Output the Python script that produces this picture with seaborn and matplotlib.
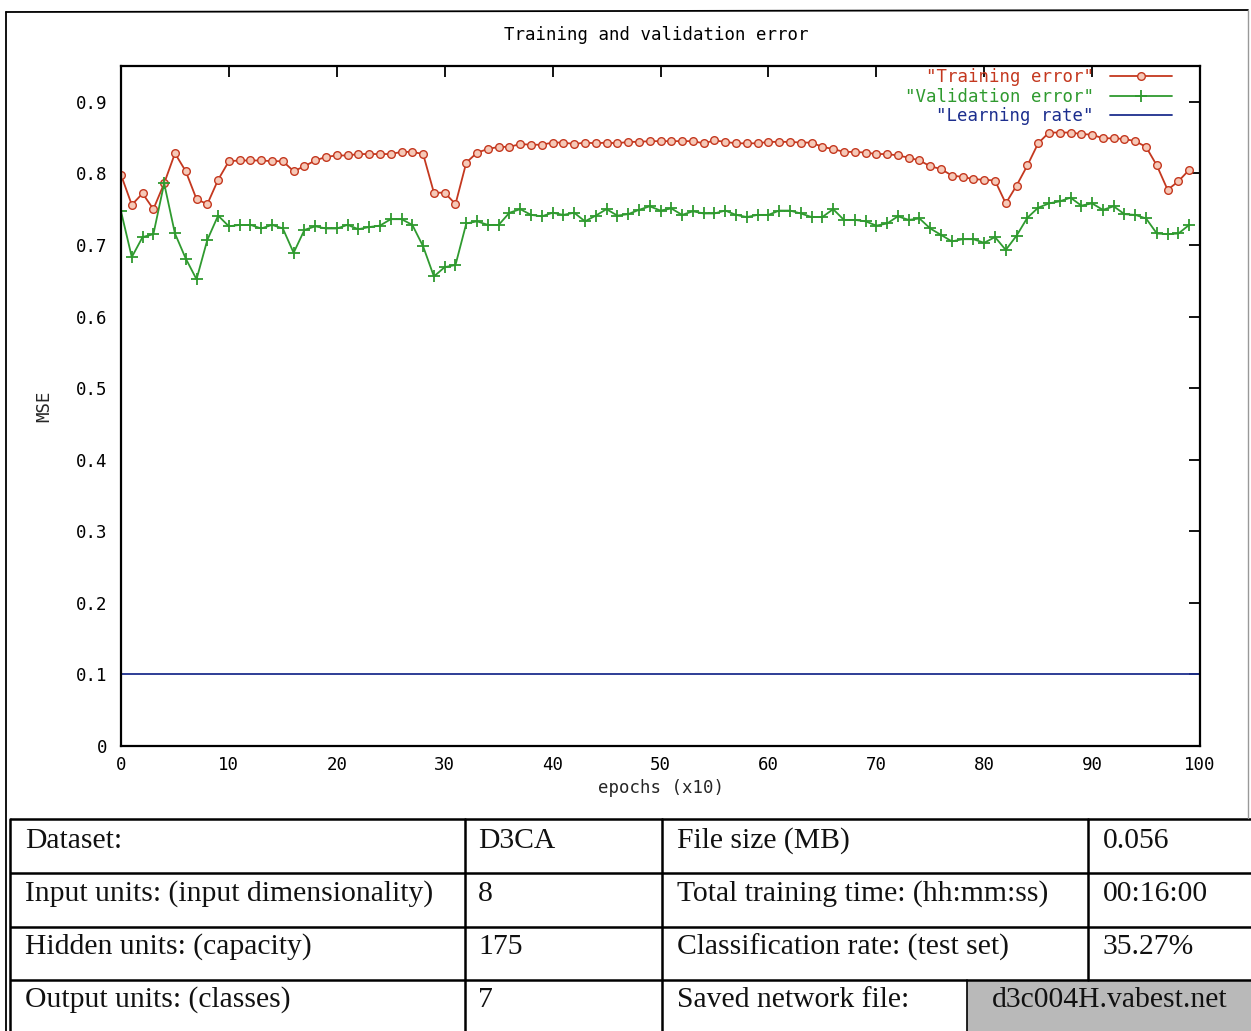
import numpy as np
import pandas as pd
import seaborn as sns
import matplotlib
matplotlib.use("Agg")
import matplotlib.pyplot as plt
from matplotlib.lines import Line2D
from matplotlib.patches import Rectangle

# ---------------- data ----------------
epochs = list(range(100))
training_error = [
    0.798, 0.756, 0.772, 0.750, 0.786, 0.828, 0.803, 0.764, 0.757, 0.791,
    0.817, 0.818, 0.818, 0.818, 0.817, 0.817, 0.803, 0.810, 0.818, 0.823,
    0.825, 0.825, 0.827, 0.827, 0.827, 0.827, 0.830, 0.830, 0.827, 0.773,
    0.773, 0.757, 0.815, 0.829, 0.834, 0.837, 0.837, 0.841, 0.840, 0.840,
    0.843, 0.843, 0.841, 0.843, 0.842, 0.843, 0.842, 0.844, 0.844, 0.845,
    0.845, 0.845, 0.845, 0.845, 0.842, 0.846, 0.844, 0.842, 0.842, 0.842,
    0.844, 0.844, 0.844, 0.843, 0.843, 0.837, 0.834, 0.830, 0.830, 0.829,
    0.827, 0.827, 0.825, 0.822, 0.818, 0.810, 0.806, 0.797, 0.795, 0.792,
    0.791, 0.790, 0.758, 0.783, 0.811, 0.842, 0.857, 0.857, 0.857, 0.855,
    0.854, 0.849, 0.849, 0.848, 0.845, 0.837, 0.811, 0.777, 0.789, 0.805,
]
validation_error = [
    0.747, 0.683, 0.711, 0.715, 0.786, 0.716, 0.681, 0.652, 0.707, 0.741,
    0.726, 0.728, 0.728, 0.723, 0.728, 0.723, 0.689, 0.721, 0.726, 0.723,
    0.723, 0.728, 0.722, 0.725, 0.727, 0.736, 0.736, 0.728, 0.698, 0.656,
    0.669, 0.672, 0.730, 0.733, 0.728, 0.728, 0.745, 0.750, 0.742, 0.740,
    0.745, 0.742, 0.745, 0.733, 0.741, 0.750, 0.741, 0.743, 0.749, 0.754,
    0.748, 0.751, 0.742, 0.747, 0.744, 0.744, 0.748, 0.742, 0.739, 0.742,
    0.742, 0.748, 0.748, 0.744, 0.739, 0.739, 0.750, 0.735, 0.735, 0.733,
    0.727, 0.730, 0.740, 0.735, 0.737, 0.723, 0.714, 0.705, 0.708, 0.708,
    0.703, 0.711, 0.693, 0.713, 0.738, 0.752, 0.758, 0.761, 0.766, 0.755,
    0.758, 0.749, 0.754, 0.743, 0.742, 0.737, 0.716, 0.715, 0.716, 0.728,
]
lr_epochs = [0, 100]
learning_rate = [0.1, 0.1]

x_ticks = list(range(0, 101, 10))
y_ticks = [0, 0.1, 0.2, 0.3, 0.4, 0.5, 0.6, 0.7, 0.8, 0.9]
y_tick_labels = ["0", "0.1", "0.2", "0.3", "0.4", "0.5", "0.6", "0.7", "0.8", "0.9"]

table_rows = [
    ["Dataset:", "D3CA", "File size (MB)", "0.056"],
    ["Input units: (input dimensionality)", "8", "Total training time: (hh:mm:ss)", "00:16:00"],
    ["Hidden units: (capacity)", "175", "Classification rate: (test set)", "35.27%"],
    ["Output units: (classes)", "7", "Saved network file:", "d3c004H.vabest.net"],
]

# ---------------- style ----------------
sns.set_theme(style="white")
plt.rcParams["font.family"] = ["DejaVu Sans Mono", "DejaVu Sans"]

W, H = 1251, 1031
fig = plt.figure(figsize=(W / 100, H / 100), dpi=100)
fig.patch.set_facecolor("white")

def fx(px):
    return px / W

def fy(py):
    return 1 - py / H

ax_l, ax_r, ax_t, ax_b = 121, 1200, 66, 746
ax = fig.add_axes([fx(ax_l), fy(ax_b), fx(ax_r - ax_l), (ax_b - ax_t) / H])

RED = "#c4381f"
GREEN = "#2f9a2f"
BLUE = "#1c2e8e"

df_t = pd.DataFrame({"epoch": epochs, "mse": training_error})
df_v = pd.DataFrame({"epoch": epochs, "mse": validation_error})
df_l = pd.DataFrame({"epoch": lr_epochs, "mse": learning_rate})

sns.lineplot(data=df_t, x="epoch", y="mse", ax=ax, color=RED, lw=1.3,
             marker="o", markersize=5.5, markerfacecolor="#f6c9b8",
             markeredgecolor=RED, markeredgewidth=1.0, label='"Training error"')
sns.lineplot(data=df_v, x="epoch", y="mse", ax=ax, color=GREEN, lw=1.3,
             marker="+", markersize=8, markeredgecolor=GREEN,
             markeredgewidth=1.3, label='"Validation error"')
sns.lineplot(data=df_l, x="epoch", y="mse", ax=ax, color=BLUE, lw=1.3,
             label='"Learning rate"')

ax.set_xlim(0, 100)
ax.set_ylim(0, 0.95)
ax.set_xticks(x_ticks)
ax.set_xticklabels([str(t) for t in x_ticks])
ax.set_yticks(y_ticks)
ax.set_yticklabels(y_tick_labels)
ax.tick_params(direction="in", length=8, width=1.3, top=True, right=True,
               labelsize=12.5, colors="black", pad=10)
ax.tick_params(axis="x", pad=7)
for s in ax.spines.values():
    s.set_color("black")
    s.set_linewidth(1.6)
ax.set_xlabel("epochs (x10)", fontsize=12.5, labelpad=4)
ax.set_ylabel("MSE", fontsize=12.5, labelpad=16)

leg = ax.legend(loc="upper right", bbox_to_anchor=(fx(1172), fy(68)),
                bbox_transform=fig.transFigure, frameon=False,
                markerfirst=False, fontsize=12.5, handlelength=3.6,
                handletextpad=0.9, labelspacing=0.1, borderpad=0,
                borderaxespad=0, numpoints=1)
for txt, col in zip(leg.get_texts(), [RED, GREEN, BLUE]):
    txt.set_color(col)

fig.text(fx(656), fy(35), "Training and validation error", ha="center",
         va="center", fontsize=12.5, color="black")

# ---------------- outer frame ----------------
fig.add_artist(Line2D([fx(6), fx(6)], [fy(12), fy(1031)], color="black", lw=1.3))
fig.add_artist(Line2D([fx(6), fx(1248)], [fy(12), fy(10)], color="black", lw=1.3))
fig.add_artist(Line2D([fx(1248), fx(1248)], [fy(10), fy(818)], color="#999999", lw=1.0))

# ---------------- table ----------------
tab = fig.add_axes([0, 0, 1, (H - 818) / H])
tab.set_xlim(0, W)
tab.set_ylim(H, 818)
tab.axis("off")

row_lines = [819, 873, 927, 980]
# gray cell
tab.add_patch(Rectangle((967, 980), W - 967, H - 980, facecolor="#b9b9b9",
                        edgecolor="none", zorder=0))
for ry in row_lines:
    tab.plot([10, W], [ry, ry], color="black", lw=1.8, solid_capstyle="butt")
tab.plot([10, 10], [819, H], color="black", lw=1.8)
tab.plot([465, 465], [819, H], color="black", lw=1.8)
tab.plot([662, 662], [819, H], color="black", lw=1.8)
tab.plot([1088, 1088], [819, 980], color="black", lw=1.8)
tab.plot([967, 967], [980, H], color="black", lw=1.2)

text_x = [25, 478, 677, 1103]
text_y = [841, 894, 947, 1000]
serif = ["Liberation Serif", "DejaVu Serif"]
for r, row in enumerate(table_rows):
    for c, val in enumerate(row):
        if r == 3 and c == 3:
            tab.text(1110, text_y[r], val, ha="center", va="center",
                     fontsize=21.3, family=serif, color="#111111")
        else:
            tab.text(text_x[c], text_y[r], val, ha="left", va="center",
                     fontsize=21.3, family=serif, color="#111111")

fig.savefig("out.png", dpi=100, facecolor="white")
